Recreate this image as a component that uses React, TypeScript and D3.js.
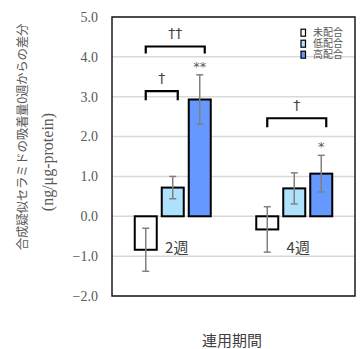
import React from "react";
import * as d3 from "d3";

const categories = ["2週", "4週"];
const series = ["未配合", "低配合", "高配合"];
const seriesColors = ["#ffffff", "#aee1fb", "#6699ff"];
const means = {
  未配合: [-0.84, -0.33],
  低配合: [0.72, 0.7],
  高配合: [2.93, 1.07],
};
const errors = {
  未配合: [0.54, 0.57],
  低配合: [0.28, 0.39],
  高配合: [0.62, 0.46],
};
const yTicks = [-2, -1, 0, 1, 2, 3, 4, 5];
// significance brackets: group, first series, last series, bracket level, label
const brackets = [
  { cat: "2週", from: "未配合", to: "低配合", level: 3.14, label: "†" },
  { cat: "2週", from: "未配合", to: "高配合", level: 4.26, label: "††" },
  { cat: "4週", from: "未配合", to: "高配合", level: 2.46, label: "†" },
];
const stars = [
  { cat: "2週", s: "高配合", label: "**" },
  { cat: "4週", s: "高配合", label: "*" },
];

const W = 363;
const H = 349;
const margin = { top: 17, right: 8, bottom: 53, left: 112 };
const jp = "'Noto Sans CJK JP', 'Noto Sans', sans-serif";
const serif = "'Liberation Serif', 'Times New Roman', 'DejaVu Serif', serif";

export default function App() {
  const x0 = d3
    .scaleBand()
    .domain(categories)
    .range([margin.left, W - margin.right]);
  const x1 = d3
    .scaleBand()
    .domain(series)
    .range([-38, 38])
    .paddingInner(0.185);
  const y = d3
    .scaleLinear()
    .domain([-2, 5])
    .range([H - margin.bottom, margin.top]);

  const center = (c: string) => x0(c)! + x0.bandwidth() / 2;
  const barMid = (c: string, s: string) =>
    center(c) + x1(s)! + x1.bandwidth() / 2;

  return (
    <div style={{ position: "absolute", left: 0, top: 0 }}>
      <svg width={W} height={H} style={{ display: "block" }}>
        <rect width={W} height={H} fill="#ffffff" />
        {/* grid */}
        {yTicks.map((t) => (
          <line
            key={t}
            x1={margin.left}
            x2={W - margin.right}
            y1={y(t)}
            y2={y(t)}
            stroke="#d9d9d9"
            strokeWidth={1.5}
          />
        ))}
        {/* tick labels */}
        {yTicks.map((t) => (
          <text
            key={"l" + t}
            x={98}
            y={y(t)}
            dy="0.35em"
            textAnchor="end"
            fontFamily={serif}
            fontSize={14}
            fill="#595959"
          >
            {d3.format(".1f")(t)}
          </text>
        ))}
        {/* bars */}
        {series.map((s, i) =>
          categories.map((c, j) => {
            const v = means[s][j];
            return (
              <rect
                key={s + c}
                x={center(c) + x1(s)!}
                width={x1.bandwidth()}
                y={Math.min(y(v), y(0))}
                height={Math.abs(y(v) - y(0))}
                fill={seriesColors[i]}
                stroke="#000000"
                strokeWidth={2}
              />
            );
          })
        )}
        {/* error bars */}
        {series.map((s) =>
          categories.map((c, j) => {
            const v = means[s][j];
            const e = errors[s][j];
            const cx = barMid(c, s);
            return (
              <g key={"e" + s + c} stroke="#808080" strokeWidth={1.5}>
                <line x1={cx} x2={cx} y1={y(v + e)} y2={y(v - e)} />
                <line x1={cx - 3.5} x2={cx + 3.5} y1={y(v + e)} y2={y(v + e)} />
                <line x1={cx - 3.5} x2={cx + 3.5} y1={y(v - e)} y2={y(v - e)} />
              </g>
            );
          })
        )}
        {/* category labels */}
        {categories.map((c) => (
          <text
            key={"c" + c}
            x={center(c) + 4}
            y={253}
            textAnchor="middle"
            fontFamily={jp}
            fontSize={15}
            fill="#404040"
          >
            {c}
          </text>
        ))}
        {/* brackets */}
        {brackets.map((b, i) => {
          const xa = barMid(b.cat, b.from);
          const xb = barMid(b.cat, b.to) + 5;
          const yt = y(b.level);
          const leg = i === 1 ? 7 : 9;
          return (
            <g key={"b" + i}>
              <path
                d={`M${xa},${yt + leg}V${yt}H${xb}V${yt + leg}`}
                fill="none"
                stroke="#000000"
                strokeWidth={2.2}
              />
              <text
                x={(xa + xb) / 2}
                y={yt - 8}
                textAnchor="middle"
                fontFamily="'DejaVu Sans', sans-serif"
                fontSize={14}
                fill="#404040"
              >
                {b.label}
              </text>
            </g>
          );
        })}
        {/* stars */}
        {stars.map((st) => {
          const j = categories.indexOf(st.cat);
          const top = means[st.s][j] + errors[st.s][j];
          return (
            <text
              key={"s" + st.cat}
              x={barMid(st.cat, st.s)}
              y={y(top) - 4}
              textAnchor="middle"
              fontFamily="'DejaVu Sans', sans-serif"
              fontSize={13}
              fill="#595959"
            >
              {st.label}
            </text>
          );
        })}
        {/* legend */}
        {series.map((s, i) => (
          <g key={"lg" + s} transform={`translate(301,${32.7 + i * 11})`}>
            <rect
              x={0}
              y={-3.5}
              width={4.5}
              height={7}
              fill={seriesColors[i]}
              stroke="#000000"
              strokeWidth={1.2}
            />
            <text
              x={12}
              y={0}
              dy="0.35em"
              fontFamily={jp}
              fontSize={10}
              fill="#595959"
            >
              {s}
            </text>
          </g>
        ))}
        {/* frame */}
        <rect
          x={margin.left}
          y={margin.top}
          width={W - margin.left - margin.right}
          height={H - margin.top - margin.bottom}
          fill="none"
          stroke="#1a1a1a"
          strokeWidth={1.5}
        />
        {/* axis titles */}
        <text
          transform={`translate(23,137) rotate(-90)`}
          textAnchor="middle"
          dy="0.35em"
          fontFamily={jp}
          fontSize={12.5}
          letterSpacing={-0.3}
          fill="#595959"
        >
          合成疑似セラミドの吸着量0週からの差分
        </text>
        <text
          transform={`translate(47,162) rotate(-90)`}
          textAnchor="middle"
          dy="0.35em"
          fontFamily={serif}
          fontSize={16}
          fill="#595959"
        >
          (ng/μg-protein)
        </text>
        <text
          x={232}
          y={341}
          dy="0.35em"
          textAnchor="middle"
          fontFamily={jp}
          fontSize={15}
          fill="#404040"
        >
          連用期間
        </text>
      </svg>
    </div>
  );
}
